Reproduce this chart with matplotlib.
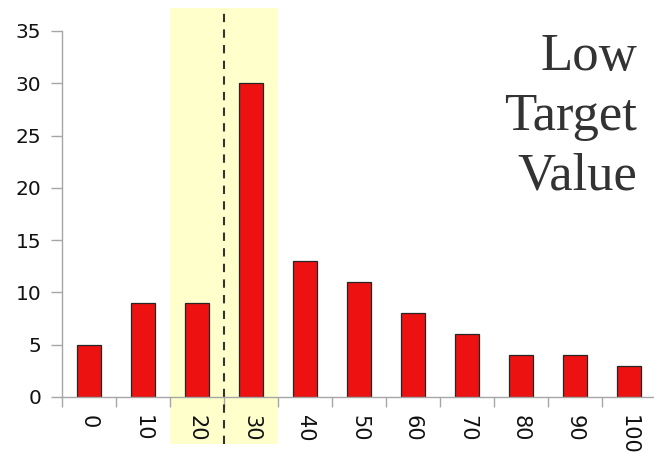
import matplotlib
matplotlib.use("Agg")
import matplotlib.pyplot as plt
from matplotlib.patches import Rectangle
import matplotlib.transforms as mtransforms
import numpy as np

# ── Data ──────────────────────────────────────────────────────────────────────
categories = ["0", "10", "20", "30", "40", "50", "60", "70", "80", "90", "100"]
counts = [5, 9, 9, 30, 13, 11, 8, 6, 4, 4, 3]
highlight = ["20", "30"]
y_ticks = [0, 5, 10, 15, 20, 25, 30, 35]

BAR_CLR = "#EE1111"
BAND_CLR = "#FFFFCC"
AXIS_CLR = "#A6A6A6"

fig = plt.figure(figsize=(6.54, 4.53), dpi=100)
ax = fig.add_axes([62 / 654, 56 / 453, 594 / 654, 366 / 453])

x = np.arange(len(categories))
ax.bar(x, counts, width=0.43, color=BAR_CLR, edgecolor="#262626",
       linewidth=0.9, zorder=3)

ax.set_xlim(-0.5, len(categories) - 0.5)
ax.set_ylim(0, 35)

# highlighted band spanning the two chosen bins, running past the axes
i0 = categories.index(highlight[0])
i1 = categories.index(highlight[-1])
trans = mtransforms.blended_transform_factory(ax.transData, fig.transFigure)
ax.add_patch(Rectangle((i0 - 0.5, 9 / 453), (i1 - i0 + 1), 436 / 453,
                       transform=trans, facecolor=BAND_CLR, edgecolor="none",
                       clip_on=False, zorder=0))
mid = (i0 + i1) / 2
ax.plot([mid, mid], [9 / 453, 445 / 453], transform=trans, color="#333333",
        linewidth=1.5, linestyle=(0, (4, 3.5)), clip_on=False, zorder=4)

# spines and ticks
for side in ("top", "right"):
    ax.spines[side].set_visible(False)
for side in ("left", "bottom"):
    ax.spines[side].set_color(AXIS_CLR)
    ax.spines[side].set_linewidth(1.0)
    ax.spines[side].set_zorder(5)

ax.set_yticks(y_ticks)
ax.set_yticklabels([str(v) for v in y_ticks])
ax.tick_params(axis="y", direction="out", length=8, width=1.0,
               color=AXIS_CLR, pad=7, labelsize=14.5, labelcolor="#111111")

ax.set_xticks(np.arange(-0.5, len(categories)))
ax.set_xticklabels([])
ax.tick_params(axis="x", which="major", direction="out", length=7,
               width=1.0, color=AXIS_CLR)
ax.set_xticks(x, minor=True)
ax.set_xticklabels(categories, minor=True, rotation=-90, va="top",
                   ha="center")
ax.tick_params(axis="x", which="minor", length=0, pad=13, labelsize=15,
               labelcolor="#111111")

ax.text(0.968, 0.995, "Low\nTarget\nValue", transform=ax.transAxes,
        ha="right", va="top", fontsize=38, family="Liberation Serif",
        color="#333333", linespacing=1.32, zorder=6)

fig.savefig("out.png", dpi=100, facecolor="white")
